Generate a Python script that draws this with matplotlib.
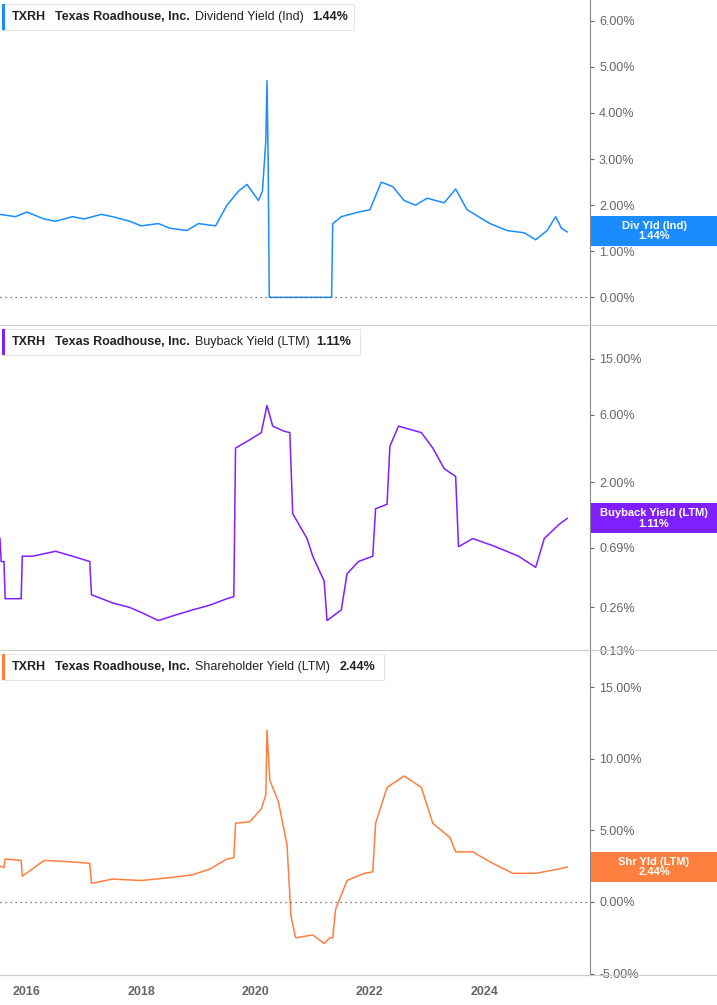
import numpy as np
import matplotlib.pyplot as plt
from matplotlib.patches import Rectangle

plt.rcParams["font.family"] = "Liberation Sans"

# ---- data ----
div_t = [2015.53, 2015.8, 2016.0, 2016.3, 2016.5, 2016.8, 2017.0, 2017.3, 2017.5, 2017.8,
         2018.0, 2018.3, 2018.5, 2018.8, 2019.0, 2019.3, 2019.5, 2019.7, 2019.85, 2020.05,
         2020.12, 2020.18, 2020.2, 2020.22, 2020.24, 2021.33, 2021.35, 2021.5, 2021.8, 2022.0,
         2022.2, 2022.4, 2022.6, 2022.8, 2023.0, 2023.3, 2023.5, 2023.7, 2023.9, 2024.1,
         2024.4, 2024.7, 2024.9, 2025.1, 2025.25, 2025.35, 2025.45]
div_v = [1.80, 1.75, 1.85, 1.70, 1.65, 1.75, 1.70, 1.80, 1.75, 1.65,
         1.55, 1.60, 1.50, 1.45, 1.60, 1.55, 2.00, 2.30, 2.45, 2.10,
         2.30, 3.40, 4.70, 3.00, 0.00, 0.00, 1.60, 1.75, 1.85, 1.90,
         2.50, 2.40, 2.10, 2.00, 2.15, 2.05, 2.35, 1.90, 1.75, 1.60,
         1.45, 1.40, 1.25, 1.45, 1.75, 1.50, 1.42]

bb_t = [2015.53, 2015.55, 2015.6, 2015.62, 2015.9, 2015.92, 2016.1, 2016.5, 2016.8, 2017.1,
        2017.13, 2017.5, 2017.8, 2018.0, 2018.3, 2018.6, 2018.9, 2019.2, 2019.5, 2019.62,
        2019.65, 2019.9, 2020.1, 2020.2, 2020.3, 2020.5, 2020.6, 2020.65, 2020.9, 2021.0,
        2021.2, 2021.25, 2021.5, 2021.6, 2021.8, 2022.05, 2022.1, 2022.3, 2022.35, 2022.5,
        2022.9, 2023.1, 2023.3, 2023.5, 2023.55, 2023.8, 2024.2, 2024.6, 2024.9, 2025.05,
        2025.3, 2025.45]
bb_v = [0.80, 0.55, 0.55, 0.30, 0.30, 0.60, 0.60, 0.65, 0.60, 0.55,
        0.32, 0.28, 0.26, 0.24, 0.21, 0.23, 0.25, 0.27, 0.30, 0.31,
        3.50, 4.00, 4.50, 7.00, 5.00, 4.60, 4.50, 1.20, 0.80, 0.60,
        0.40, 0.21, 0.25, 0.45, 0.55, 0.60, 1.30, 1.40, 3.60, 5.00,
        4.50, 3.50, 2.50, 2.20, 0.70, 0.80, 0.70, 0.60, 0.50, 0.80,
        1.00, 1.11]

sh_t = [2015.53, 2015.6, 2015.62, 2015.9, 2015.92, 2016.3, 2016.8, 2017.1, 2017.13, 2017.5,
        2018.0, 2018.5, 2018.9, 2019.2, 2019.5, 2019.62, 2019.65, 2019.9, 2020.1, 2020.18,
        2020.2, 2020.25, 2020.4, 2020.55, 2020.62, 2020.7, 2021.0, 2021.2, 2021.3, 2021.35,
        2021.4, 2021.6, 2021.9, 2022.05, 2022.1, 2022.3, 2022.6, 2022.9, 2023.1, 2023.4,
        2023.5, 2023.8, 2024.1, 2024.5, 2024.9, 2025.3, 2025.45]
sh_v = [2.50, 2.40, 3.00, 2.90, 1.80, 2.90, 2.80, 2.70, 1.30, 1.60,
        1.50, 1.70, 1.90, 2.30, 3.00, 3.10, 5.50, 5.60, 6.50, 7.50,
        12.0, 8.50, 7.00, 4.00, -1.00, -2.50, -2.30, -2.90, -2.50, -2.50,
        -0.50, 1.50, 2.00, 2.10, 5.50, 8.00, 8.80, 8.00, 5.50, 4.50,
        3.50, 3.50, 2.80, 2.00, 2.00, 2.30, 2.44]

titles = ["Dividend Yield (Ind)", "Buyback Yield (LTM)", "Shareholder Yield (LTM)"]
values = ["1.44%", "1.11%", "2.44%"]
tags = ["Div Yld (Ind)\n1.44%", "Buyback Yield (LTM)\n1.11%", "Shr Yld (LTM)\n2.44%"]
last = [1.44, 1.11, 2.44]
colors = ["#1a8cff", "#7f1fff", "#ff7f3f"]
div_ticks = [0, 1, 2, 3, 4, 5, 6]
bb_ticks = [0.13, 0.26, 0.69, 2.0, 6.0, 15.0]
sh_ticks = [-5, 0, 5, 10, 15]
year_ticks = [2016, 2018, 2020, 2022, 2024]

W, H = 717, 1005
fig = plt.figure(figsize=(W / 100, H / 100), dpi=100)
right = 590 / W
rects = [(0, 325), (325, 650), (650, 975)]
axes = []
for top, bot in rects:
    ax = fig.add_axes([0, 1 - bot / H, right, (bot - top) / H])
    axes.append(ax)

series = [(div_t, div_v), (bb_t, bb_v), (sh_t, sh_v)]
ylims = [(-0.6, 6.45), (0.13, 26), (-5.1, 17.6)]
yticks = [div_ticks, bb_ticks, sh_ticks]
title_x = [195, 195, 195]
value_x = [312, 316, 340]
box_w = [352, 358, 382]
gray = "#666666"
for i, ax in enumerate(axes):
    t, v = series[i]
    ax.plot(t, v, color=colors[i], lw=1.1)
    if i == 1:
        ax.set_yscale("log")
    ax.set_ylim(ylims[i])
    ax.set_xlim(2015.53, 2025.85)
    ax.yaxis.tick_right()
    ax.set_yticks(yticks[i])
    ax.set_yticklabels([f"{x:.2f}%" for x in yticks[i]])
    ax.yaxis.set_minor_locator(plt.NullLocator())
    ax.tick_params(axis="y", colors=gray, labelsize=9, length=3, direction="out")
    for s in ["top", "left", "bottom"]:
        ax.spines[s].set_visible(False)
    ax.spines["right"].set_color("#888888")
    if i != 1:
        ax.axhline(0, color="#555555", lw=0.9, ls=(0, (1, 3)))
    fig.add_artist(plt.Line2D([0, 1], [1 - rects[i][1] / H] * 2, color="#cccccc", lw=0.8))
    # header box
    top = rects[i][0]
    yb = 1 - (top + 30) / H
    fig.add_artist(Rectangle((2 / W, yb), box_w[i] / W, 26 / H, facecolor="white",
                             edgecolor="#e4e4e4", lw=0.8))
    fig.add_artist(Rectangle((2 / W, yb), 3 / W, 26 / H, facecolor=colors[i], edgecolor="none"))
    yt = yb + 13 / H
    fig.text(12 / W, yt, "TXRH", fontsize=9, weight="bold", color="#222222", va="center")
    fig.text(55 / W, yt, "Texas Roadhouse, Inc.", fontsize=9, weight="bold", color="#222222", va="center")
    fig.text(title_x[i] / W, yt, titles[i], fontsize=9, color="#222222", va="center")
    fig.text(value_x[i] / W, yt, values[i], fontsize=9, weight="bold", color="#222222", va="center")
    # last-value tag spanning the right margin
    yd = ax.transData.transform((2020, last[i]))[1]
    fig.add_artist(Rectangle((591 / W, (yd - 15) / H), 126 / W, 30 / H,
                             facecolor=colors[i], edgecolor="none", zorder=5))
    fig.text(654 / W, yd / H, tags[i], fontsize=8, weight="bold", color="white",
             ha="center", va="center", linespacing=1.05, zorder=6)

for ax in axes[:2]:
    ax.set_xticks([])
axes[2].set_xticks(year_ticks)
axes[2].set_xticklabels([str(y) for y in year_ticks], weight="bold")
axes[2].tick_params(axis="x", colors=gray, labelsize=9, length=0, pad=8)
axes[2].spines["bottom"].set_visible(True)
axes[2].spines["bottom"].set_color("#cccccc")

fig.savefig("out.png", dpi=100)
